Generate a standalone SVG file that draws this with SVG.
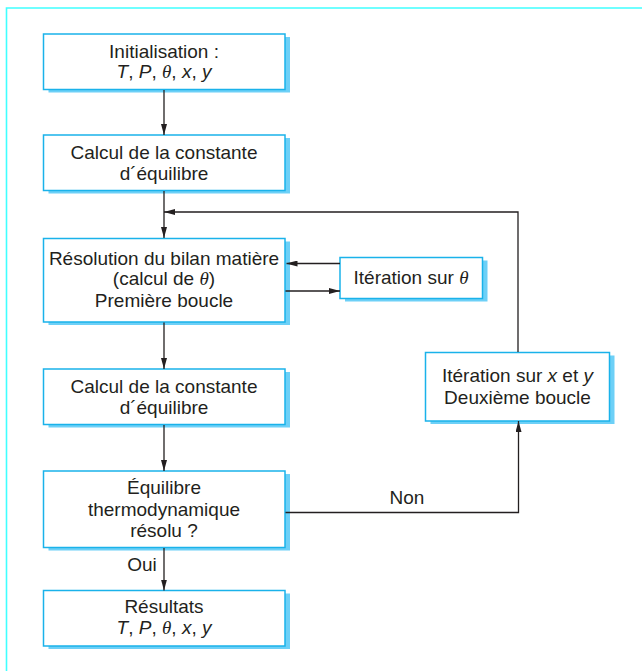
<svg xmlns="http://www.w3.org/2000/svg" width="642" height="671" viewBox="0 0 642 671">
  <defs>
    <marker id="arrow" viewBox="0 0 11 6" refX="11" refY="3" markerWidth="11" markerHeight="6" markerUnits="userSpaceOnUse" orient="auto">
      <path d="M0,0 L11,3 L0,6 Z" fill="#231f20"/>
    </marker>
  </defs>
  <style>
    .frame { stroke: #40ffff; stroke-width: 1.6; fill: none; }
    .shadow { fill: #6dd0f7; }
    .box { fill: #ffffff; stroke: #1ab2ea; stroke-width: 1.5; }
    .lbl { font-family: "Liberation Sans", Arial, sans-serif; font-size: 19px; fill: #231f20; text-anchor: middle; }
    .it { font-style: italic; }
    .th { font-family: "Liberation Serif", "Times New Roman", serif; font-style: italic; }
    .link { stroke: #231f20; stroke-width: 1.3; fill: none; }
  </style>

  <!-- page frame: top and left rules only -->
  <path class="frame" d="M6.5,671 V8 H642"/>

  <g id="init">
    <rect class="shadow" x="48.5" y="37" width="241.5" height="55.5"/>
    <rect class="box" x="43.5" y="34" width="241.5" height="55.5"/>
    <text class="lbl" x="164" y="57.5">Initialisation :</text>
    <text class="lbl" x="164" y="77.5"><tspan class="it">T</tspan>, <tspan class="it">P</tspan>, <tspan class="th">θ</tspan>, <tspan class="it">x</tspan>, <tspan class="it">y</tspan></text>
  </g>

  <g id="constante1">
    <rect class="shadow" x="48.5" y="138" width="241.5" height="55.5"/>
    <rect class="box" x="43.5" y="135" width="241.5" height="55.5"/>
    <text class="lbl" x="164" y="158.5">Calcul de la constante</text>
    <text class="lbl" x="164" y="179.5">d´équilibre</text>
  </g>

  <g id="bilan">
    <rect class="shadow" x="48.5" y="241.5" width="241.5" height="83.5"/>
    <rect class="box" x="43.5" y="238.5" width="241.5" height="83.5"/>
    <text class="lbl" x="164" y="264.5">Résolution du bilan matière</text>
    <text class="lbl" x="164" y="285">(calcul de <tspan class="th">θ</tspan>)</text>
    <text class="lbl" x="164" y="306.5">Première boucle</text>
  </g>

  <g id="iter-theta">
    <rect class="shadow" x="345" y="260.5" width="142.5" height="41"/>
    <rect class="box" x="340" y="257.5" width="142.5" height="41"/>
    <text class="lbl" x="411" y="283.5">Itération sur <tspan class="th">θ</tspan></text>
  </g>

  <g id="iter-xy">
    <rect class="shadow" x="430.5" y="355.5" width="184" height="68.5"/>
    <rect class="box" x="425.5" y="352.5" width="184" height="68.5"/>
    <text class="lbl" x="517.5" y="382">Itération sur <tspan class="it">x</tspan> et <tspan class="it">y</tspan></text>
    <text class="lbl" x="517.5" y="403.5">Deuxième boucle</text>
  </g>

  <g id="constante2">
    <rect class="shadow" x="48.5" y="372" width="241.5" height="55.5"/>
    <rect class="box" x="43.5" y="369" width="241.5" height="55.5"/>
    <text class="lbl" x="164" y="392.5">Calcul de la constante</text>
    <text class="lbl" x="164" y="413.5">d´équilibre</text>
  </g>

  <g id="test">
    <rect class="shadow" x="48.5" y="474" width="241.5" height="76.5"/>
    <rect class="box" x="43.5" y="471" width="241.5" height="76.5"/>
    <text class="lbl" x="164" y="494">Équilibre</text>
    <text class="lbl" x="164" y="515.5">thermodynamique</text>
    <text class="lbl" x="164" y="537">résolu ?</text>
  </g>

  <g id="resultats">
    <rect class="shadow" x="48.5" y="593.5" width="241.5" height="55.5"/>
    <rect class="box" x="43.5" y="590.5" width="241.5" height="55.5"/>
    <text class="lbl" x="164" y="612.5">Résultats</text>
    <text class="lbl" x="164" y="633.5"><tspan class="it">T</tspan>, <tspan class="it">P</tspan>, <tspan class="th">θ</tspan>, <tspan class="it">x</tspan>, <tspan class="it">y</tspan></text>
  </g>

  <g id="connectors">
    <path class="link" d="M164,90 V135" marker-end="url(#arrow)"/>
    <path class="link" d="M164,191 V238" marker-end="url(#arrow)"/>
    <path class="link" d="M518,352 V212 H164" marker-end="url(#arrow)"/>
    <path class="link" d="M340,263.5 H286.5" marker-end="url(#arrow)"/>
    <path class="link" d="M285.5,291 H340" marker-end="url(#arrow)"/>
    <path class="link" d="M164,322.5 V369" marker-end="url(#arrow)"/>
    <path class="link" d="M164,425 V471" marker-end="url(#arrow)"/>
    <path class="link" d="M164,548 V590.5" marker-end="url(#arrow)"/>
    <path class="link" d="M285.5,512.5 H518.5 V421" marker-end="url(#arrow)"/>
    <text class="lbl" x="407" y="504">Non</text>
    <text class="lbl" x="142" y="571">Oui</text>
  </g>
</svg>
